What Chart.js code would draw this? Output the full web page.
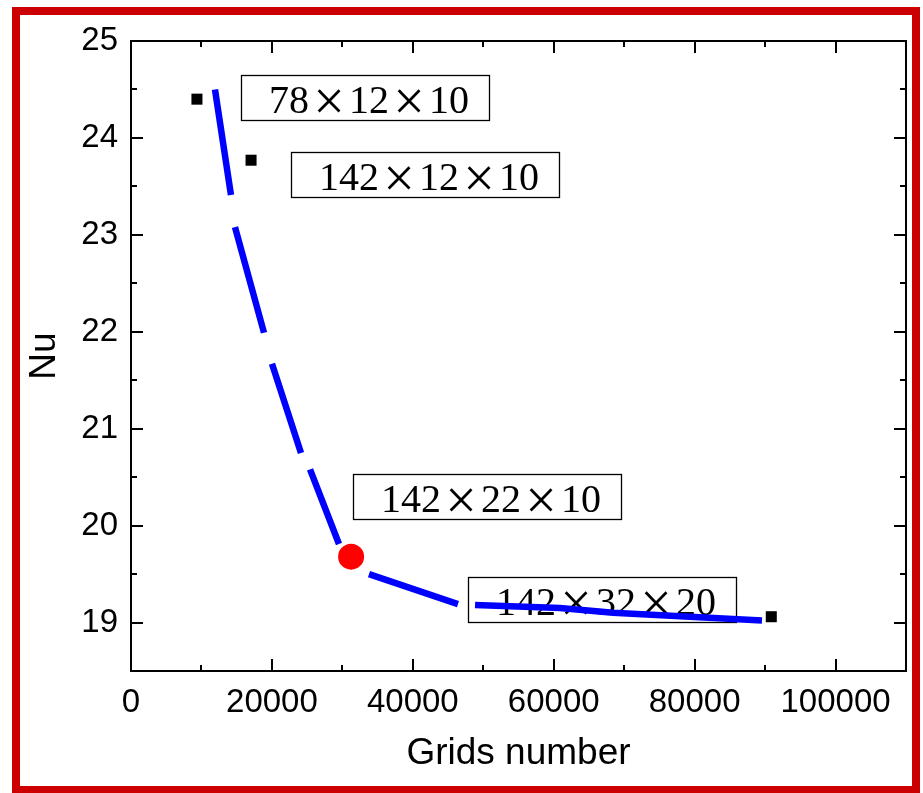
<!DOCTYPE html>
<html>
<head>
<meta charset="utf-8">
<script src="https://cdn.jsdelivr.net/npm/chart.js@4.4.1/dist/chart.umd.min.js"></script>
<style>
html, body { margin: 0; padding: 0; background: #fff; }
#wrap { position: relative; width: 923px; height: 793px; }
#frame { position: absolute; left: 12px; top: 7px; width: 892px; height: 771px; border: 8px solid #cc0000; pointer-events: none; }
</style>
</head>
<body>
<div id="wrap">
  <canvas id="chart" width="923" height="793"></canvas>
  <div id="frame"></div>
</div>
<script>
// mesh study: grid count vs Nusselt number
const gridCounts = [9360, 17040, 31240, 90880];
const nuValues = [24.40, 23.77, 19.68, 19.06];
const meshLabels = ['78×12×10', '142×12×10', '142×22×10', '142×32×20'];
const chosenMesh = 2;

// fitted curve, null = break in the line
const fitX = [11920, 14190, null, 14760, 18880, null, 20010, 24130, null, 25410, 29520, null, 33780, 46410, null, 48830, 60890, 68410, 89560];
const fitY = [24.50, 23.41, null, 23.08, 21.99, null, 21.67, 20.75, null, 20.58, 19.81, null, 19.50, 19.19, null, 19.18, 19.15, 19.10, 19.02];

const xTickValues = [0, 20000, 40000, 60000, 80000, 100000];
const yTickValues = [19, 20, 21, 22, 23, 24, 25];

// label box top-left, relative to its point (px)
const tagOffsets = [[44, -24], [40, -8], [2, -83], [-303, -40]];

const axisFont = { family: '"Liberation Sans", Arial, sans-serif', size: 33 };
const titleFont = { family: '"Liberation Sans", Arial, sans-serif', size: 37 };

const meshTags = {
    id: 'meshTags',
    beforeDatasetsDraw(chart) {
        const { ctx, scales: { x, y } } = chart;
        const em = 40;
        ctx.save();
        meshLabels.forEach((label, i) => {
            const px = Math.round(x.getPixelForValue(gridCounts[i]) + tagOffsets[i][0]);
            const py = Math.round(y.getPixelForValue(nuValues[i]) + tagOffsets[i][1]);
            const parts = label.split('×');
            ctx.font = em + 'px "Liberation Serif", serif';
            let textW = em * (parts.length - 1);
            parts.forEach(p => { textW += ctx.measureText(p).width; });
            const boxW = Math.round(textW + 48), boxH = 45;
            ctx.fillStyle = '#fff';
            ctx.fillRect(px, py, boxW, boxH);
            ctx.strokeStyle = '#000';
            ctx.lineWidth = 1.3;
            ctx.strokeRect(px + 0.5, py + 0.5, boxW, boxH);

            let cx = px + 28;
            const base = py + 38;
            ctx.fillStyle = '#000';
            ctx.textBaseline = 'alphabetic';
            parts.forEach((p, k) => {
                ctx.font = em + 'px "Liberation Serif", serif';
                ctx.textAlign = 'left';
                ctx.fillText(p, cx, base);
                cx += ctx.measureText(p).width;
                if (k < parts.length - 1) {
                    ctx.font = '56px "Liberation Serif", serif';
                    ctx.textAlign = 'center';
                    ctx.fillText('×', cx + em / 2, base + 7);
                    cx += em;
                }
            });
        });
        ctx.restore();
    }
};

// box frame with inward ticks on all four sides
const axisFrame = {
    id: 'axisFrame',
    afterDraw(chart) {
        const { ctx, chartArea: a, scales: { x, y } } = chart;
        ctx.save();
        ctx.strokeStyle = '#000';
        ctx.lineWidth = 2;
        ctx.strokeRect(a.left, a.top, a.right - a.left, a.bottom - a.top);
        ctx.beginPath();
        const xs = x.ticks.map(t => t.value);
        const xStep = xs[1] - xs[0];
        xs.forEach(v => {
            [[v, 12], [v + xStep / 2, 6]].forEach(([tv, len]) => {
                if (tv <= x.min || tv >= x.max) return;
                const p = Math.round(x.getPixelForValue(tv));
                ctx.moveTo(p, a.bottom); ctx.lineTo(p, a.bottom - len);
                ctx.moveTo(p, a.top); ctx.lineTo(p, a.top + len);
            });
        });
        const ys = y.ticks.map(t => t.value);
        const yStep = ys[1] - ys[0];
        ys.forEach(v => {
            [[v, 12], [v - yStep / 2, 6]].forEach(([tv, len]) => {
                if (tv <= y.min || tv >= y.max) return;
                const p = Math.round(y.getPixelForValue(tv));
                ctx.moveTo(a.left, p); ctx.lineTo(a.left + len, p);
                ctx.moveTo(a.right, p); ctx.lineTo(a.right - len, p);
            });
        });
        ctx.stroke();
        ctx.restore();
    }
};

const meshPoints = gridCounts.map((g, i) => ({ x: g, y: nuValues[i] }));
const fitPoints = fitX.map((v, i) => ({ x: v === null ? fitX[i - 1] : v, y: fitY[i] }));

new Chart(document.getElementById('chart'), {
    type: 'line',
    data: {
        datasets: [{
            label: 'Nu',
            data: meshPoints,
            showLine: false,
            pointStyle: gridCounts.map((g, i) => i === chosenMesh ? 'circle' : 'rect'),
            pointRadius: gridCounts.map((g, i) => i === chosenMesh ? 13 : 7.8),
            pointBackgroundColor: gridCounts.map((g, i) => i === chosenMesh ? '#ff0000' : '#000000'),
            pointBorderWidth: 0
        }, {
            label: 'fit',
            data: fitPoints,
            borderColor: '#0000ff',
            borderWidth: 6.5,
            borderCapStyle: 'butt',
            pointRadius: 0,
            spanGaps: false,
            tension: 0,
            fill: false
        }]
    },
    options: {
        responsive: false,
        animation: false,
        events: [],
        layout: { padding: { left: 0, top: 41, right: 17, bottom: 0 } },
        plugins: { legend: { display: false }, tooltip: { enabled: false } },
        scales: {
            x: {
                type: 'linear',
                min: 0,
                max: 110000,
                grid: { display: false, drawTicks: false },
                border: { display: false },
                afterBuildTicks: s => { s.ticks = xTickValues.map(v => ({ value: v })); },
                afterFit: s => { s.height = 122; },
                ticks: { font: axisFont, color: '#000', padding: 12, maxRotation: 0, autoSkip: false, callback: v => String(v) },
                title: { display: true, text: 'Grids number', color: '#000', font: titleFont, padding: { top: 0, bottom: 17 } }
            },
            y: {
                type: 'linear',
                min: 18.5,
                max: 25,
                grid: { display: false, drawTicks: false },
                border: { display: false },
                afterBuildTicks: s => { s.ticks = yTickValues.map(v => ({ value: v })); },
                afterFit: s => { s.width = 131; },
                ticks: { font: axisFont, color: '#000', padding: 13, autoSkip: false, callback: v => String(v) },
                title: { display: true, text: 'Nu', color: '#000', font: titleFont, padding: { top: 23, bottom: 0 } }
            }
        }
    },
    plugins: [meshTags, axisFrame]
});
</script>
</body>
</html>
